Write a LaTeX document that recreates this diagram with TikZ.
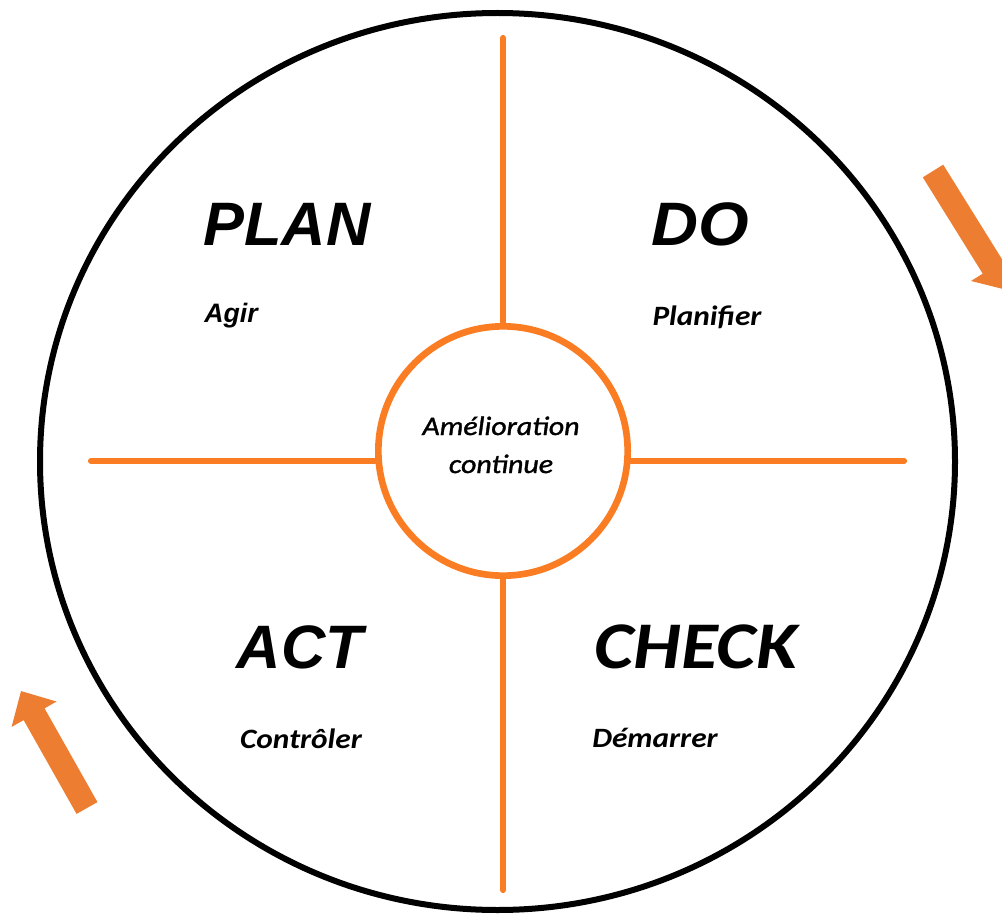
\documentclass[tikz,border=0pt]{standalone}
\usepackage{fontspec}
\setmainfont{Carlito}
\newfontfamily\arialfont{Liberation Sans}
\newfontfamily\semiitalic{Carlito Italic}[RawFeature={embolden=1.2}]
\usetikzlibrary{
    arrows.meta,
    positioning
}
\definecolor{pdcaline}{RGB}{250,125,35}
\definecolor{pdcaarrow}{RGB}{237,125,49}
\newcommand{\pdcawide}[1]{\scalebox{1.12}[1]{#1}}
\tikzset{
    spoke/.style={pdcaline, line width=4.6pt, line cap=round},
    stage/.style={anchor=base, font=\fontsize{46}{46}\selectfont\arialfont\bfseries\itshape},
    verb/.style={anchor=base, font=\fontsize{21}{21}\selectfont\bfseries\itshape},
    cyclearrow/.style={pdcaarrow, line width=18pt, -{Triangle[width=37.5pt,length=20pt]}}
}

\begin{document}
\begin{tikzpicture}[x=0.75pt, y=-0.75pt]
    \useasboundingbox (0,0) rectangle (1002,916);
    \draw[line width=4.5pt] (497.5,461.5) ellipse [x radius=457.5, y radius=448.5];

    % centre circle and spokes
    \node[circle, draw=pdcaline, line width=5pt, minimum size=187pt, inner sep=0pt] (centre) at (503,451) {};
    \coordinate (spokeN) at (503,38);
    \coordinate (spokeS) at (503,890);
    \coordinate (spokeW) at (91,461);
    \coordinate (spokeE) at (904,461);
    \draw[spoke] (spokeN) -- (centre.north);
    \draw[spoke] (spokeS) -- (centre.south);
    \draw[spoke] (spokeW) -- (spokeW -| centre.west);
    \draw[spoke] (spokeE) -- (spokeE -| centre.east);
    \node[anchor=base, align=center, font=\fontsize{20}{28.5}\selectfont\semiitalic] (amelioration) at (501,473) {\pdcawide{Amélioration}\\\pdcawide{continue}};

    % quadrants
    \node[stage] (plan) at (287,245) {PLAN};
    \node[verb, font=\fontsize{20}{20}\selectfont\arialfont\bfseries\itshape] (agir) at (231,322) {Agir};
    \node[stage] (do) at (700,245) {\scalebox{1.06}[1]{DO}};
    \node[verb] (planifier) at (707,325) {\pdcawide{Planifier}};
    \node[stage] (act) at (300,668) {ACT};
    \node[verb] (controler) at (301,748) {\pdcawide{Contrôler}};
    \node[stage, font=\fontsize{50}{50}\selectfont\bfseries\itshape] (check) at (696,668) {\scalebox{1.13}[1]{CHECK}};
    \node[verb] (demarrer) at (655,747) {\pdcawide{Démarrer}};

    % rotation arrows
    \coordinate (cwA) at (933,171);
    \coordinate (cwB) at (1007,290);
    \coordinate (cwC) at (87,808);
    \coordinate (cwD) at (21,691);
    \draw[cyclearrow] (cwA) -- (cwB);
    \draw[cyclearrow] (cwC) -- (cwD);
\end{tikzpicture}
\end{document}
